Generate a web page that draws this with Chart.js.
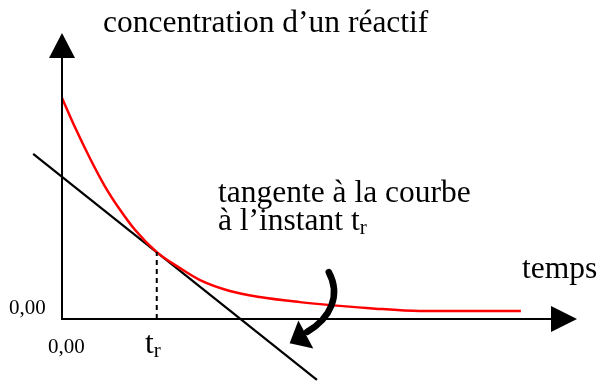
<!DOCTYPE html>
<html>
<head>
<meta charset="utf-8">
<script src="https://cdn.jsdelivr.net/npm/chart.js@4/dist/chart.umd.min.js"></script>
<style>
html,body{margin:0;padding:0;background:#fff;}
canvas{display:block;}
</style>
</head>
<body>
<canvas id="c" width="600" height="383"></canvas>
<script>
// Values (arbitrary units)
const timeValues  = [0, 0.25, 0.54, 0.83, 1.13, 1.42, 1.84, 2.29, 2.68, 3.26, 3.84, 4.62, 5.01, 5.98, 6.95, 8.91];
const concValues  = [7.73, 6.71, 5.63, 4.65, 3.81, 3.11, 2.34, 1.78, 1.36, 0.98, 0.77, 0.59, 0.52, 0.38, 0.28, 0.28];
const tangentT    = [-0.56, 4.95];
const tangentC    = [5.77, -2.13];
const tR          = 1.84;
const cAtTR       = 2.34;
const xTickLabel  = "0,00";
const yTickLabel  = "0,00";
const yAxisTitle  = "concentration d’un réactif";
const xAxisTitle  = "temps";
const noteLine1   = "tangente à la courbe";
const noteLine2   = "à l’instant ";

const serif = '"Liberation Serif","Times New Roman",serif';

const decor = {
  id: 'decor',
  afterDatasetsDraw(chart) {
    const ctx = chart.ctx;
    const xs = chart.scales.x, ys = chart.scales.y;
    const X = v => xs.getPixelForValue(v), Y = v => ys.getPixelForValue(v);
    const x0 = X(0), y0 = Y(0);
    const right = chart.chartArea.right, top = chart.chartArea.top;
    ctx.save();
    ctx.fillStyle = '#000'; ctx.strokeStyle = '#000';
    // axes
    ctx.lineWidth = 2;
    ctx.beginPath(); ctx.moveTo(x0, y0 + 1); ctx.lineTo(x0, top + 25); ctx.stroke();
    ctx.beginPath(); ctx.moveTo(x0 - 1, y0); ctx.lineTo(right - 26, y0); ctx.stroke();
    ctx.beginPath(); ctx.moveTo(x0, top); ctx.lineTo(x0 - 13, top + 25); ctx.lineTo(x0 + 13, top + 25); ctx.closePath(); ctx.fill();
    ctx.beginPath(); ctx.moveTo(right, y0); ctx.lineTo(right - 26, y0 - 13); ctx.lineTo(right - 26, y0 + 13); ctx.closePath(); ctx.fill();
    // dashed line at t_r
    ctx.lineWidth = 2; ctx.setLineDash([5, 4]);
    ctx.beginPath(); ctx.moveTo(X(tR), y0); ctx.lineTo(X(tR), Y(cAtTR)); ctx.stroke();
    ctx.setLineDash([]);
    // curved arrow (annotation) in data units
    ctx.lineWidth = 6.5; ctx.lineCap = 'round';
    ctx.beginPath();
    ctx.moveTo(X(5.18), Y(1.64));
    ctx.bezierCurveTo(X(5.42), Y(0.84), X(5.22), Y(0.03), X(4.76), Y(-0.45));
    ctx.stroke();
    ctx.beginPath();
    ctx.moveTo(X(4.42), Y(-0.85)); ctx.lineTo(X(4.59), Y(-0.05)); ctx.lineTo(X(4.88), Y(-1.03)); ctx.closePath(); ctx.fill();
    // texts
    ctx.textBaseline = 'alphabetic'; ctx.textAlign = 'left';
    ctx.font = '31.5px ' + serif;
    ctx.fillText(yAxisTitle, 103, 32);
    ctx.fillText(xAxisTitle, 522, 278);
    ctx.fillText(noteLine1, 218, 202);
    ctx.fillText(noteLine2, 218, 230);
    let w = ctx.measureText(noteLine2).width;
    ctx.fillText('t', 218 + w, 230);
    let wt = ctx.measureText('t').width;
    ctx.font = '21px ' + serif;
    ctx.fillText('r', 218 + w + wt, 234);
    // t_r tick label
    ctx.font = '31.5px ' + serif;
    ctx.fillText('t', 145, 353);
    wt = ctx.measureText('t').width;
    ctx.font = '21px ' + serif;
    ctx.fillText('r', 145 + wt, 357);
    // 0,00 labels
    ctx.font = '21px ' + serif;
    ctx.fillText(yTickLabel, 9, 314);
    ctx.fillText(xTickLabel, 48, 353);
    ctx.restore();
  }
};

new Chart(document.getElementById('c'), {
  type: 'line',
  data: {
    datasets: [
      {
        data: timeValues.map((t, i) => ({x: t, y: concValues[i]})),
        borderColor: '#ff0000', borderWidth: 2.5, pointRadius: 0,
        cubicInterpolationMode: 'monotone', fill: false, clip: false
      },
      {
        data: tangentT.map((t, i) => ({x: t, y: tangentC[i]})),
        borderColor: '#000', borderWidth: 2.2, pointRadius: 0,
        tension: 0, fill: false, clip: false
      }
    ]
  },
  options: {
    responsive: false, animation: false,
    layout: {padding: {left: 62, right: 23, top: 33, bottom: 64}},
    plugins: {legend: {display: false}, tooltip: {enabled: false}, title: {display: false}},
    scales: {
      x: {type: 'linear', min: 0, max: 10, display: false},
      y: {type: 'linear', min: 0, max: 10, display: false}
    }
  },
  plugins: [decor]
});
</script>
</body>
</html>
